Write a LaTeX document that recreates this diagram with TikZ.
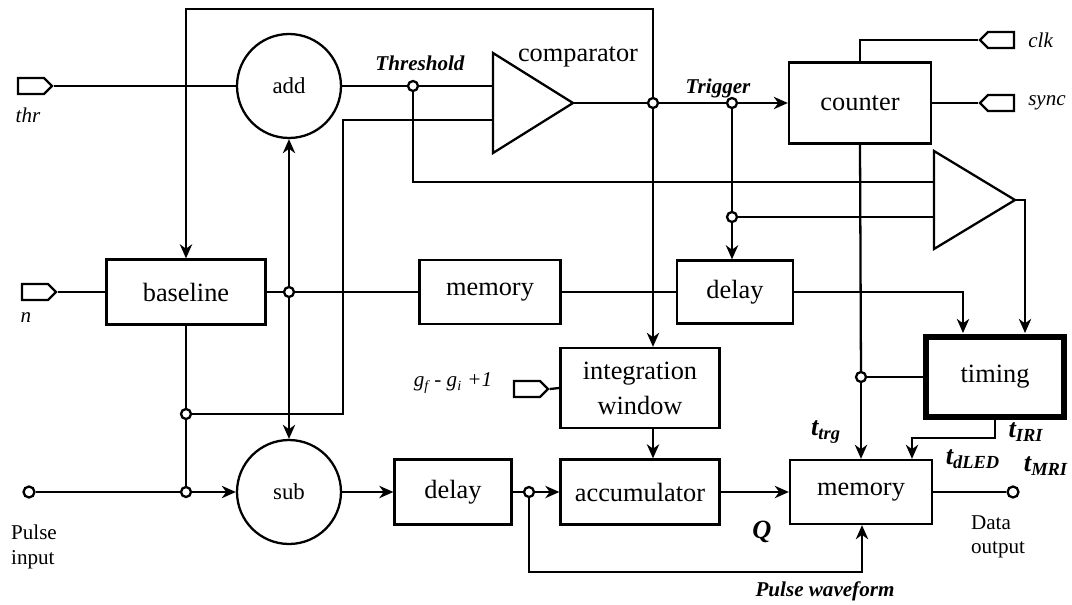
\documentclass[tikz,border=0pt]{standalone}
\usepackage{fontspec}
\setmainfont{Liberation Serif}
\usetikzlibrary{arrows.meta,positioning,shapes.symbols}

\begin{document}
\begin{tikzpicture}[x=0.02cm,y=-0.02cm,line width=1.3pt,
	>={Stealth[length=8pt,width=7pt,inset=2.5pt]},
	block/.style={draw,rectangle,inner sep=0,align=center,font=\fontsize{15}{20}\selectfont},
	summer/.style={draw,circle,inner sep=0,minimum size=2.08cm,font=\fontsize{13}{15}\selectfont},
	junc/.style={draw,circle,fill=white,inner sep=0,minimum size=0.2cm},
	port/.style={draw,signal,inner sep=0,minimum width=0.68cm,minimum height=0.32cm},
	note/.style={inner sep=0,font=\fontsize{12}{14}\selectfont\itshape},
	lbl/.style={inner sep=0,font=\fontsize{12}{14}\selectfont\bfseries\itshape},
	tlbl/.style={inner sep=0,font=\fontsize{15}{17}\selectfont\bfseries\itshape},
	plain/.style={inner sep=0,align=left,font=\fontsize{12}{14}\selectfont}]

\useasboundingbox (0,0) rectangle (1072,605);

% blocks
\node[summer] (add) at (289,86) {add};
\node[summer] (sub) at (289,492) {sub};
\node[block,minimum width=3.18cm,minimum height=1.3cm] (baseline) at (186,292) {baseline};
\node[block,minimum width=2.82cm,minimum height=1.28cm] (mem_a) at (490,292) {memory};
\node[block,minimum width=2.32cm,minimum height=1.26cm] (delay_a) at (735,292) {delay};
\node[block,minimum width=2.84cm,minimum height=1.62cm] (counter) at (860,103) {counter};
\node[block,minimum width=3.18cm,minimum height=1.6cm] (intwin) at (640,388) {integration\\window};
\node[block,minimum width=3.18cm,minimum height=1.3cm] (accum) at (640,492) {accumulator};
\node[block,minimum width=2.34cm,minimum height=1.3cm] (delay_b) at (453,492) {delay};
\node[block,minimum width=2.84cm,minimum height=1.28cm] (mem_b) at (861,492) {memory};
\node[block,line width=3.8pt,minimum width=2.76cm,minimum height=1.6cm] (timing) at (995,377) {timing};

% comparators
\draw (493,53) -- (573,103) -- (493,153) -- cycle;
\coordinate (comp_a) at (493,86);
\coordinate (comp_b) at (493,120);
\coordinate (comp_out) at (573,103);
\draw (934,151) -- (1015,200) -- (934,249) -- cycle;
\coordinate (tcmp_a) at (934,182);
\coordinate (tcmp_b) at (934,217);
\coordinate (tcmp_out) at (1015,200);

% ports
\node[port,signal to=east] (thr_in) at (31,86) {};
\node[port,signal to=east] (n_in) at (35,292) {};
\node[port,signal to=east] (g_in) at (527,389) {};
\node[port,signal to=west] (clk_in) at (1001,40) {};
\node[port,signal to=west] (sync_in) at (1001,103) {};

% junctions
\node[junc] (thr_j) at (413,86) {};
\node[junc] (cmp_j) at (653,103) {};
\node[junc] (trg_j) at (732,103) {};
\node[junc] (trg_j2) at (732,217) {};
\node[junc] (base_j) at (289,292) {};
\node[junc] (base_j2) at (186,414) {};
\node[junc] (pulse_j) at (186,492) {};
\node[junc] (dly_j) at (529,492) {};
\node[junc] (cnt_j) at (861,377) {};
\node[junc,minimum size=0.22cm] (pulse_in) at (29,492) {};
\node[junc,minimum size=0.22cm] (data_out) at (1013,492) {};

% bends
\coordinate (loop_top) at (186,9);
\coordinate (cmp_x) at (343,120);
\coordinate (tim_a) at (963,333);
\coordinate (tim_b) at (1025,333);
\coordinate (wave) at (862,572);
\coordinate (iri) at (912,438);

% labels
\node[note] (thr_txt) at (28,115) {thr};
\node[note] (n_txt) at (26,318) {n};
\node[note,right=0.24cm of clk_in] (clk_txt) {clk};
\node[note,right=0.24cm of sync_in] (sync_txt) {sync};
\node[note] (g_txt) at (453,383) {g\textsubscript{f} - g\textsubscript{i} +1};
\node[inner sep=0,font=\fontsize{15}{17}\selectfont] (comp_txt) at (578,57) {comparator};
\node[lbl] (thr_lbl) at (420,63) {Threshold};
\node[lbl] (trg_lbl) at (718,88) {Trigger};
\node[tlbl] (q_lbl) at (762,532) {Q};
\node[lbl] (wave_lbl) at (825,591) {Pulse waveform};
\node[tlbl] (ttrg) at (826,432) {t\textsubscript{trg}};
\node[tlbl] (tiri) at (1026,432) {t\textsubscript{IRI}};
\node[tlbl] (tdled) at (973,459) {t\textsubscript{dLED}};
\node[tlbl] (tmri) at (1046,466) {t\textsubscript{MRI}};
\node[plain] (pin_txt) at (34,547) {Pulse\\input};
\node[plain] (dout_txt) at (998,537) {Data\\output};

% threshold path
\draw (thr_in.east) -- (add.west);
\draw (add.east) -- (thr_j) -- (comp_a);
\draw (thr_j) |- (tcmp_a);
\draw (base_j2) -| (cmp_x) -- (comp_b);

% trigger path
\draw (comp_out) -- (cmp_j) -- (trg_j);
\draw[->] (trg_j) -- (counter.west);
\draw[->] (cmp_j) |- (loop_top) -- (baseline.north);
\draw[->] (cmp_j) -- (cmp_j |- intwin.north);
\draw (trg_j) -- (trg_j2) -- (tcmp_b);
\draw[->] (trg_j2) -- (trg_j2 |- delay_a.north);
\draw[->] (tcmp_out) -| (tim_b);

% counter
\draw (counter.north) |- (clk_in.west);
\draw (counter.east) -- (sync_in.west);
\draw (counter.south) -- (cnt_j);
\draw[->] (cnt_j) -- (cnt_j |- mem_b.north);
\draw (timing.west) -- (cnt_j);

% baseline
\draw (n_in.east) -- (baseline.west);
\draw (baseline.east) -- (base_j) -- (mem_a.west);
\draw (mem_a.east) -- (delay_a.west);
\draw[->] (delay_a.east) -| (tim_a);
\draw[->] (base_j) -- (add.south);
\draw[->] (base_j) -- (sub.north);
\draw (baseline.south) -- (base_j2) -- (pulse_j);

% pulse path
\draw (pulse_in) -- (pulse_j);
\draw[->] (pulse_j) -- (sub.west);
\draw[->] (sub.east) -- (delay_b.west);
\draw (delay_b.east) -- (dly_j);
\draw[->] (dly_j) -- (accum.west);
\draw[->] (dly_j) |- (wave) -- (mem_b.south -| wave);
\draw (g_in.east) -- (intwin.west);
\draw[->] (cmp_j |- intwin.south) -- (cmp_j |- accum.north);
\draw[->] (accum.east) -- (mem_b.west);
\draw (mem_b.east) -- (data_out);
\draw[->] (timing.south) |- (iri) -- (iri |- mem_b.north);

\end{tikzpicture}
\end{document}
